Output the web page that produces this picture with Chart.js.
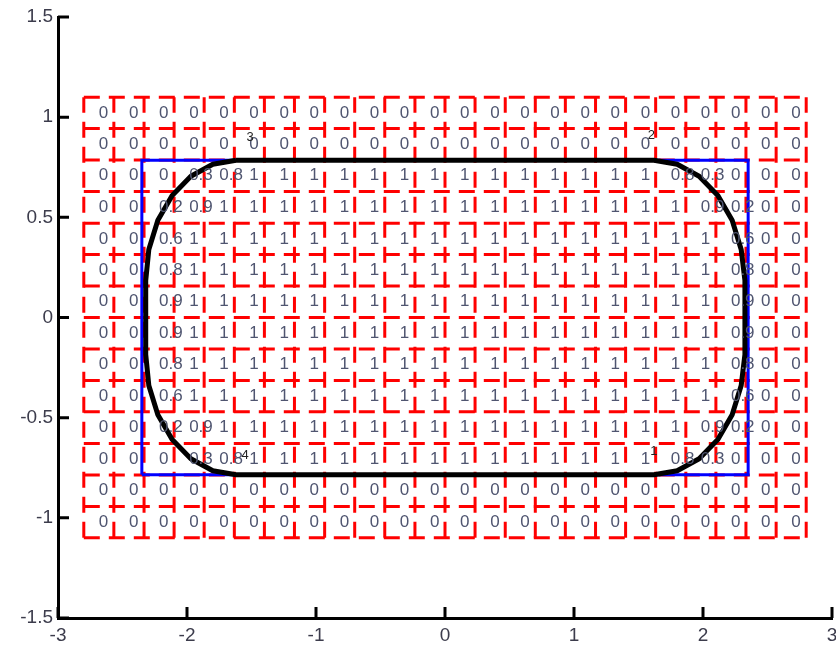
<!DOCTYPE html>
<html>
<head>
<meta charset="utf-8">
<style>
  html, body { margin: 0; padding: 0; background: #ffffff; }
  #wrap { width: 836px; height: 648px; position: relative; }
  canvas { display: block; }
</style>
<script src="https://cdn.jsdelivr.net/npm/chart.js@4/dist/chart.umd.min.js"></script>
</head>
<body>
<div id="wrap"><canvas id="c" width="836" height="648"></canvas></div>
<script>
// Cell grid: 24 columns by 14 rows
const xEdges = [-2.8, -2.567, -2.333, -2.1, -1.867, -1.633, -1.4, -1.167, -0.933, -0.7, -0.467, -0.233,
                0, 0.233, 0.467, 0.7, 0.933, 1.167, 1.4, 1.633, 1.867, 2.1, 2.333, 2.567, 2.8];
const yEdges = [1.1, 0.943, 0.786, 0.629, 0.471, 0.314, 0.157, 0, -0.157, -0.314, -0.471, -0.629, -0.786, -0.943, -1.1];

// Area fraction of each cell that lies inside the rounded shape (rows top to bottom)
const cellValues = [
  [0,0,0,0,0,0,0,0,0,0,0,0,0,0,0,0,0,0,0,0,0,0,0,0],
  [0,0,0,0,0,0,0,0,0,0,0,0,0,0,0,0,0,0,0,0,0,0,0,0],
  [0,0,0,0.3,0.8,1,1,1,1,1,1,1,1,1,1,1,1,1,1,0.8,0.3,0,0,0],
  [0,0,0.2,0.9,1,1,1,1,1,1,1,1,1,1,1,1,1,1,1,1,0.9,0.2,0,0],
  [0,0,0.6,1,1,1,1,1,1,1,1,1,1,1,1,1,1,1,1,1,1,0.6,0,0],
  [0,0,0.8,1,1,1,1,1,1,1,1,1,1,1,1,1,1,1,1,1,1,0.8,0,0],
  [0,0,0.9,1,1,1,1,1,1,1,1,1,1,1,1,1,1,1,1,1,1,0.9,0,0],
  [0,0,0.9,1,1,1,1,1,1,1,1,1,1,1,1,1,1,1,1,1,1,0.9,0,0],
  [0,0,0.8,1,1,1,1,1,1,1,1,1,1,1,1,1,1,1,1,1,1,0.8,0,0],
  [0,0,0.6,1,1,1,1,1,1,1,1,1,1,1,1,1,1,1,1,1,1,0.6,0,0],
  [0,0,0.2,0.9,1,1,1,1,1,1,1,1,1,1,1,1,1,1,1,1,0.9,0.2,0,0],
  [0,0,0,0.3,0.8,1,1,1,1,1,1,1,1,1,1,1,1,1,1,0.8,0.3,0,0,0],
  [0,0,0,0,0,0,0,0,0,0,0,0,0,0,0,0,0,0,0,0,0,0,0,0],
  [0,0,0,0,0,0,0,0,0,0,0,0,0,0,0,0,0,0,0,0,0,0,0,0]
];

// Bounding rectangle (blue)
const boxX = [-2.35, 2.35, 2.35, -2.35, -2.35];
const boxY = [-0.785, -0.785, 0.785, 0.785, -0.785];

// Rounded outline (black), corner by corner
const shapeX = [-1.62, -1.80, -1.97, -2.115, -2.226, -2.296, -2.32,
                -2.32, -2.296, -2.226, -2.115, -1.97, -1.80, -1.62,
                 1.62, 1.80, 1.97, 2.115, 2.226, 2.296, 2.325,
                 2.325, 2.296, 2.226, 2.115, 1.97, 1.80, 1.62,
                -1.62];
const shapeY = [0.785, 0.765, 0.705, 0.609, 0.485, 0.340, 0.185,
               -0.185, -0.340, -0.485, -0.609, -0.705, -0.765, -0.785,
               -0.785, -0.765, -0.705, -0.609, -0.485, -0.340, -0.185,
                0.185, 0.340, 0.485, 0.609, 0.705, 0.765, 0.785,
                0.785];

// Small point labels near the tangency points
const markTexts = ['3', '2', '4', '1'];
const markX = [-1.51, 1.60, -1.55, 1.62];
const markY = [0.90, 0.91, -0.69, -0.67];

// Axis ticks
const xTickValues = [-3, -2, -1, 0, 1, 2, 3];
const xTickLabels = ['-3', '-2', '-1', '0', '1', '2', '3'];
const yTickValues = [-1.5, -1, -0.5, 0, 0.5, 1, 1.5];
const yTickLabels = ['-1.5', '-1', '-0.5', '0', '0.5', '1', '1.5'];

const FONT = '"Liberation Sans", Arial, Helvetica, sans-serif';

function labelFor(values, labels) {
  return function (value) {
    const i = values.findIndex(v => Math.abs(v - value) < 1e-9);
    return i >= 0 ? labels[i] : '';
  };
}

const gridStyle = {
  showLine: true,
  borderColor: '#ff0000',
  borderWidth: 3,
  borderDash: [16, 9],
  borderCapStyle: 'butt',
  pointRadius: 0,
  tension: 0,
  order: 3
};

const datasets = [];
const xLo = xEdges[0], xHi = xEdges[xEdges.length - 1];
const yHi = yEdges[0], yLo = yEdges[yEdges.length - 1];
// horizontal grid lines, dashed from left to right
yEdges.forEach(y => {
  datasets.push(Object.assign({ data: [{x: xLo, y: y}, {x: xHi, y: y}] }, gridStyle));
});
// vertical grid lines, dashed from bottom to top
xEdges.forEach(x => {
  datasets.push(Object.assign({ data: [{x: x, y: yLo}, {x: x, y: yHi}] }, gridStyle));
});
datasets.push({
  data: boxX.map((x, i) => ({x: x, y: boxY[i]})),
  showLine: true,
  borderColor: '#0000ff',
  borderWidth: 3,
  pointRadius: 0,
  tension: 0,
  order: 2
});
datasets.push({
  data: shapeX.map((x, i) => ({x: x, y: shapeY[i]})),
  showLine: true,
  borderColor: '#000000',
  borderWidth: 5,
  borderJoinStyle: 'round',
  pointRadius: 0,
  tension: 0,
  order: 1
});

// Cell fraction labels and the small point labels, drawn above the lines
const cellTextPlugin = {
  id: 'cellText',
  afterDatasetsDraw(chart) {
    const {ctx, scales} = chart;
    const sx = scales.x, sy = scales.y;
    ctx.save();
    ctx.fillStyle = '#4f5570';
    ctx.font = '17px ' + FONT;
    ctx.textAlign = 'left';
    ctx.textBaseline = 'middle';
    for (let r = 0; r < cellValues.length; r++) {
      for (let c = 0; c < cellValues[r].length; c++) {
        const cx = (xEdges[c] + xEdges[c + 1]) / 2;
        const cy = (yEdges[r] + yEdges[r + 1]) / 2;
        ctx.fillText(String(cellValues[r][c]), sx.getPixelForValue(cx), sy.getPixelForValue(cy));
      }
    }
    ctx.fillStyle = '#222222';
    ctx.font = '13px ' + FONT;
    ctx.textAlign = 'center';
    for (let i = 0; i < markTexts.length; i++) {
      ctx.fillText(markTexts[i], sx.getPixelForValue(markX[i]), sy.getPixelForValue(markY[i]));
    }
    ctx.restore();
  }
};

// Inward-pointing tick marks on both axes
const innerTicksPlugin = {
  id: 'innerTicks',
  afterDraw(chart) {
    const {ctx, scales, chartArea} = chart;
    const len = 11;
    ctx.save();
    ctx.strokeStyle = '#000000';
    ctx.lineWidth = 3;
    ctx.lineCap = 'butt';
    ctx.beginPath();
    xTickValues.forEach(v => {
      const px = scales.x.getPixelForValue(v);
      ctx.moveTo(px, chartArea.bottom);
      ctx.lineTo(px, chartArea.bottom - len);
    });
    yTickValues.forEach(v => {
      const py = scales.y.getPixelForValue(v);
      ctx.moveTo(chartArea.left, py);
      ctx.lineTo(chartArea.left + len, py);
    });
    ctx.stroke();
    ctx.restore();
  }
};

new Chart(document.getElementById('c'), {
  type: 'scatter',
  data: { datasets: datasets },
  options: {
    responsive: false,
    animation: false,
    events: [],
    layout: { padding: { top: 17, right: 0, bottom: 0, left: 0 } },
    plugins: { legend: { display: false }, tooltip: { enabled: false } },
    scales: {
      x: {
        type: 'linear',
        min: -3, max: 3,
        afterFit(scale) { scale.height = 30; scale.paddingLeft = 0; scale.paddingRight = 4; },
        afterBuildTicks(scale) { scale.ticks = xTickValues.map(v => ({value: v})); },
        grid: { display: true, drawOnChartArea: false, drawTicks: false },
        border: { display: true, color: '#000000', width: 3 },
        ticks: {
          padding: 6,
          color: '#3c3c4c',
          font: { family: FONT, size: 19 },
          maxRotation: 0,
          callback: labelFor(xTickValues, xTickLabels)
        }
      },
      y: {
        type: 'linear',
        min: -1.5, max: 1.5,
        afterFit(scale) { scale.width = 58; },
        afterBuildTicks(scale) { scale.ticks = yTickValues.map(v => ({value: v})); },
        grid: { display: true, drawOnChartArea: false, drawTicks: false },
        border: { display: true, color: '#000000', width: 3 },
        ticks: {
          padding: 5,
          color: '#3c3c4c',
          font: { family: FONT, size: 19 },
          callback: labelFor(yTickValues, yTickLabels)
        }
      }
    }
  },
  plugins: [cellTextPlugin, innerTicksPlugin]
});
</script>
</body>
</html>
